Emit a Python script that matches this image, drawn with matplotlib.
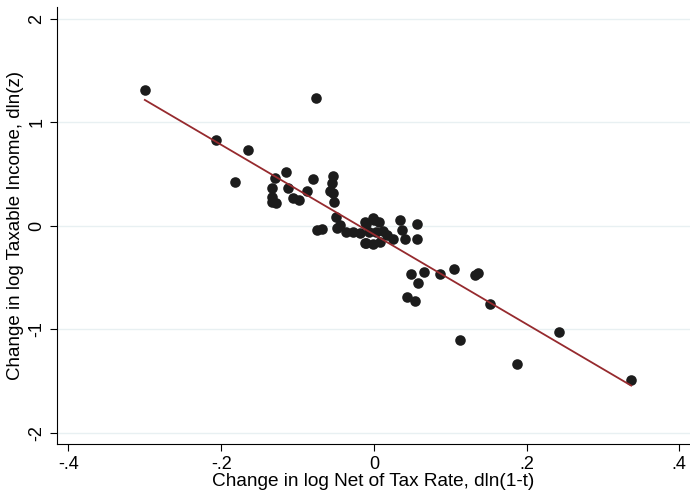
import numpy as np
import matplotlib.pyplot as plt

plt.rcParams['font.family'] = ['Liberation Sans', 'DejaVu Sans']

# change in log net-of-tax rate, dln(1-t)
dln_net = [-0.300, -0.076, -0.207, -0.165, -0.182, -0.115, -0.129, -0.134, -0.112,
           -0.133, -0.128, -0.133, -0.106, -0.098, -0.087, -0.080, -0.054, -0.055,
           -0.058, -0.053, -0.052, -0.050, -0.075, -0.068, -0.048, -0.045, -0.036,
           -0.027, -0.018, -0.010, -0.001, -0.012, 0.007, -0.007, 0.003, 0.012,
           -0.012, -0.001, 0.008, 0.017, 0.025, 0.034, 0.037, 0.041, 0.056, 0.056,
           0.048, 0.065, 0.058, 0.044, 0.054, 0.086, 0.105, 0.132, 0.137, 0.152,
           0.113, 0.188, 0.243, 0.337, -0.010, 0.000]
# change in log taxable income, dln(z)
dln_z = [1.31, 1.24, 0.83, 0.73, 0.42, 0.52, 0.46, 0.37, 0.37,
         0.28, 0.22, 0.23, 0.27, 0.25, 0.34, 0.45, 0.48, 0.41,
         0.34, 0.32, 0.23, 0.09, -0.04, -0.035, -0.025, 0.007, -0.06,
         -0.06, -0.07, -0.17, 0.08, 0.04, 0.04, -0.06, -0.06, -0.05,
         -0.17, -0.18, -0.155, -0.09, -0.13, 0.055, -0.04, -0.13, 0.02, -0.13,
         -0.47, -0.445, -0.55, -0.69, -0.73, -0.47, -0.42, -0.48, -0.455, -0.76,
         -1.10, -1.34, -1.03, -1.49, 0.02, 0.06]

x = np.array(dln_net)
y = np.array(dln_z)
b, a = np.polyfit(x, y, 1)
xs = np.array([x.min(), x.max()])

fig = plt.figure(figsize=(6.9, 4.93), dpi=100, facecolor='white')
ax = fig.add_axes([0.0826, 0.0994, 0.9174, 0.887])

ax.scatter(x, y, s=58, color='#1c1c1c', zorder=3, linewidths=0)
ax.plot(xs, a + b * xs, color='#962a2e', lw=1.3, zorder=4)

ax.set_xlim(-0.415, 0.414)
ax.set_ylim(-2.11, 2.12)
ax.set_xticks([-0.4, -0.2, 0, 0.2, 0.4])
ax.set_xticklabels(['-.4', '-.2', '0', '.2', '.4'])
ax.set_yticks([-2, -1, 0, 1, 2])
ax.set_yticklabels(['-2', '-1', '0', '1', '2'], rotation=90, va='center')
for t in [-2, -1, 0, 1, 2]:
    ax.axhline(t, color='#e8f0f2', lw=1, zorder=1)

ax.spines['top'].set_visible(False)
ax.spines['right'].set_visible(False)
ax.tick_params(axis='both', labelsize=13, length=5, width=0.8, direction='out')
ax.set_xlabel('Change in log Net of Tax Rate, dln(1-t)', fontsize=13.7, labelpad=0)
ax.set_ylabel('Change in log Taxable Income, dln(z)', fontsize=13.5, labelpad=3)

fig.savefig('out.png', dpi=100, facecolor='white')
